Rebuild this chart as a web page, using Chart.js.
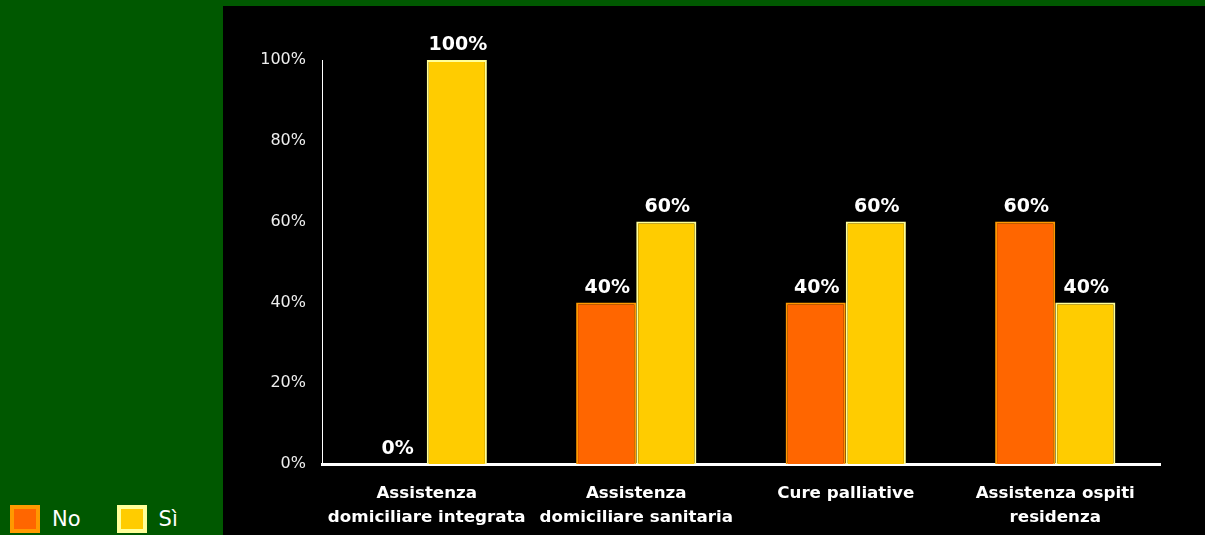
<!DOCTYPE html>
<html>
<head>
<meta charset="utf-8">
<script src="https://cdn.jsdelivr.net/npm/chart.js@4"></script>
<style>
  body { margin: 0; background: #005800; width: 1205px; height: 535px; overflow: hidden; position: relative; font-family: "DejaVu Sans", sans-serif; }
  #box { position: absolute; left: 223px; top: 6px; width: 982px; height: 529px; background: #000; }
  #legend { position: absolute; left: 10px; top: 505px; display: flex; color: #fff; font-size: 21px; }
  .item { display: flex; align-items: center; margin-right: 36px; }
  .sw { width: 22px; height: 20px; border: 4px solid; margin-right: 12px; }
</style>
</head>
<body>
<div id="box"><canvas id="chart" width="982" height="529"></canvas></div>
<div id="legend"></div>
<script>
var categories = [
    ["Assistenza", "domiciliare integrata"],
    ["Assistenza", "domiciliare sanitaria"],
    "Cure palliative",
    ["Assistenza ospiti", "residenza"]
];
var noValues = [0, 40, 40, 60];
var siValues = [100, 60, 60, 40];
var seriesNames = ["No", "Sì"];

// draws the percentage above every bar
var barLabels = {
    id: 'barLabels',
    afterDatasetsDraw: function(chart) {
        var ctx = chart.ctx;
        ctx.save();
        ctx.fillStyle = '#ffffff';
        ctx.font = 'bold 19px "DejaVu Sans"';
        ctx.textAlign = 'center';
        ctx.textBaseline = 'bottom';
        chart.data.datasets.forEach(function(ds, i) {
            chart.getDatasetMeta(i).data.forEach(function(bar, j) {
                ctx.fillText(ds.data[j] + '%', bar.x + 1, bar.y - 5);
            });
        });
        ctx.restore();
    }
};

var ctx = document.getElementById('chart').getContext('2d');
var chart = new Chart(ctx, {
    type: 'bar',
    data: {
        labels: categories,
        datasets: [{
            label: seriesNames[0],
            data: noValues,
            backgroundColor: '#ff6600',
            borderColor: '#ff9900',
            borderWidth: 2
        }, {
            label: seriesNames[1],
            data: siValues,
            backgroundColor: '#ffcc00',
            borderColor: '#ffff99',
            borderWidth: 2
        }]
    },
    options: {
        responsive: false,
        animation: false,
        layout: { padding: { top: 54, right: 45, left: 0, bottom: 0 } },
        datasets: { bar: { categoryPercentage: 0.574, barPercentage: 1 } },
        plugins: { legend: { display: false }, tooltip: { enabled: false } },
        scales: {
            x: {
                grid: { display: false, drawTicks: false },
                border: { color: '#ffffff', width: 3 },
                ticks: { color: '#ffffff', font: { family: 'DejaVu Sans', size: 16.7, weight: 'bold', lineHeight: 1.42 }, padding: 18, maxRotation: 0, autoSkip: false },
                afterFit: function(scale) { scale.height = 71; }
            },
            y: {
                min: 0,
                max: 100,
                grid: { display: false, drawTicks: false },
                border: { color: '#ffffff', width: 1 },
                ticks: { stepSize: 20, color: '#eeeeee', padding: 16, font: { family: 'DejaVu Sans', size: 16 },
                    callback: function(v) { return v + '%'; } },
                afterFit: function(scale) { scale.width = 99; }
            }
        }
    },
    plugins: [barLabels]
});

// legend outside the black box, built from the datasets
var legend = document.getElementById('legend');
chart.data.datasets.forEach(function(ds) {
    var item = document.createElement('div');
    item.className = 'item';
    var sw = document.createElement('div');
    sw.className = 'sw';
    sw.style.background = ds.backgroundColor;
    sw.style.borderColor = ds.borderColor;
    var t = document.createElement('span');
    t.textContent = ds.label;
    item.appendChild(sw);
    item.appendChild(t);
    legend.appendChild(item);
});
</script>
</body>
</html>
